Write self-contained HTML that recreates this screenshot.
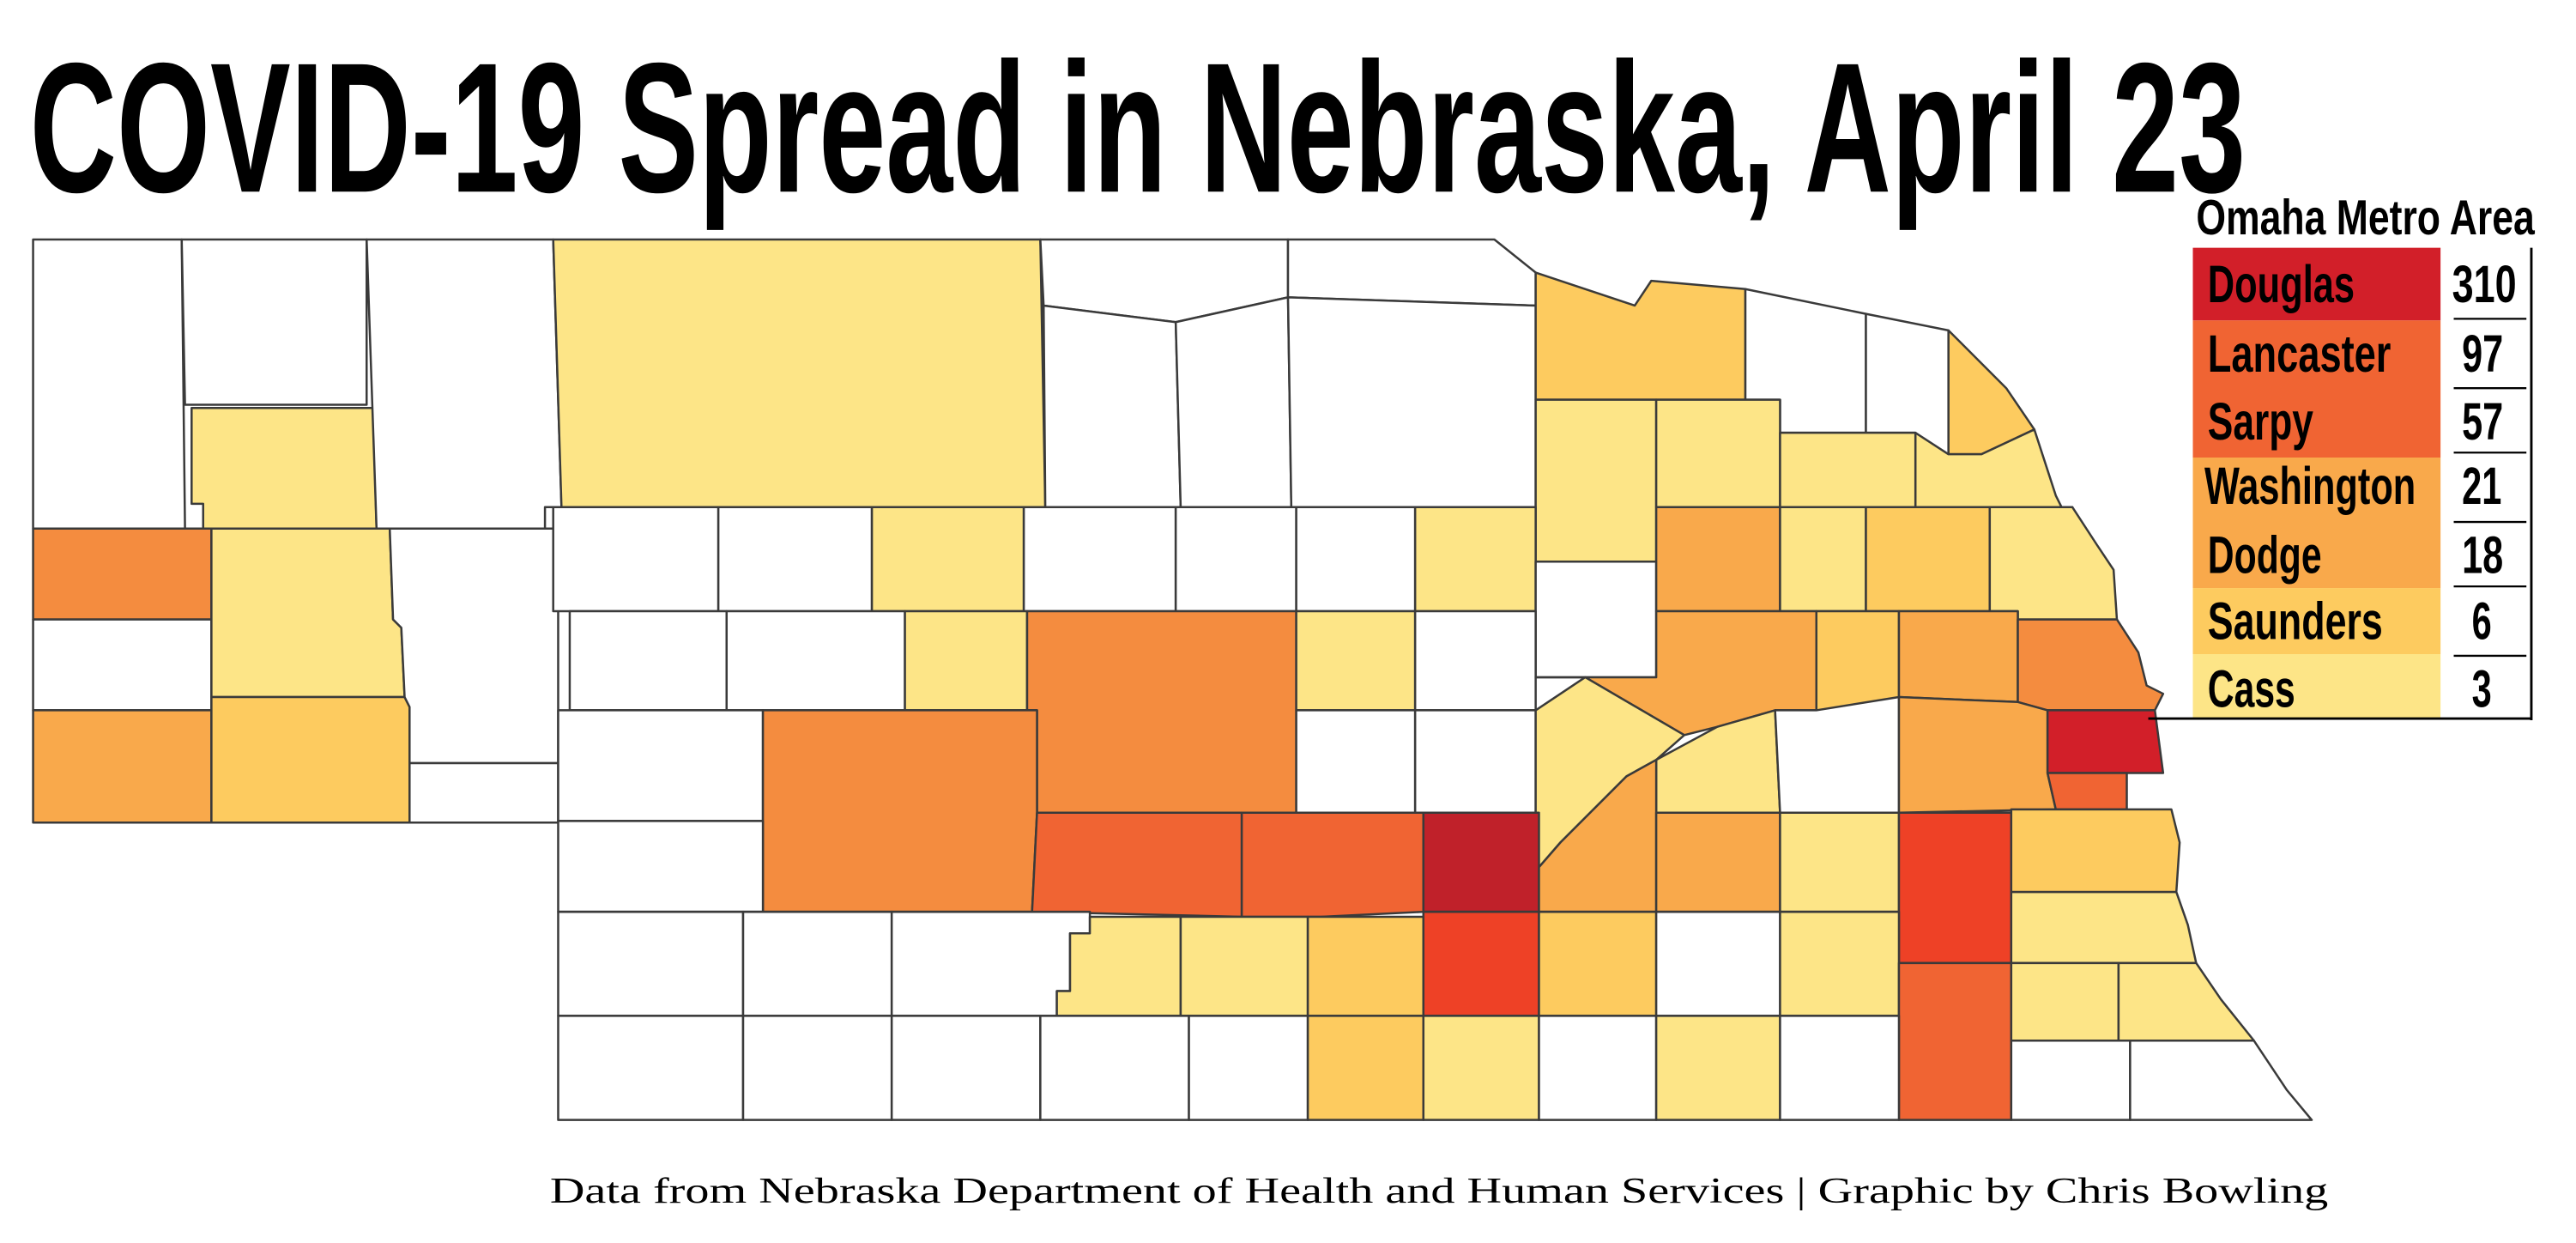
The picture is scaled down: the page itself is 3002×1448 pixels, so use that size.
<!DOCTYPE html>
<html><head><meta charset="utf-8"><style>
html,body{margin:0;padding:0;background:#fff}
svg{display:block}
.c{stroke:#3a3a3a;stroke-width:1.3;stroke-linejoin:round}
.t{font-family:"Liberation Sans",sans-serif;font-weight:bold}
</style></head><body>
<svg width="3002" height="1448" viewBox="0 0 1560 752.5" xmlns="http://www.w3.org/2000/svg">
<rect width="1560" height="752.5" fill="#fff"/>
<text class="t" x="18" y="116" font-size="112" textLength="1342" lengthAdjust="spacingAndGlyphs">COVID-19 Spread in Nebraska, April 23</text>

<g class="c">
<polygon points="20,145 110,145 112,320 20,320" fill="#fff"/>
<polygon points="110,145 222,145 222,245 112,245" fill="#fff"/>
<polygon points="116,247 226,247 228,320 123,320 123,305 116,305" fill="#fde587"/>
<polygon points="222,145 335,145 340,307 330,307 330,320 228,320" fill="#fff"/>
<rect x="20" y="320" width="108" height="55" fill="#f48c3f"/>
<rect x="20" y="375" width="108" height="55" fill="#fff"/>
<rect x="20" y="430" width="108" height="68" fill="#f9a94b"/>
<polygon points="128,320 236,320 238,375 243,380 245,422 128,422" fill="#fde587"/>
<polygon points="128,422 245,422 248,428 248,498 128,498" fill="#fdcb5f"/>
<polygon points="236,320 330,320 338,320 338,462 248,462 248,428 245,422 243,380 238,375" fill="#fff"/>
<rect x="248" y="462" width="90" height="36" fill="#fff"/>
<polygon points="335,145 630,145 633,307 340,307" fill="#fde587"/>
<polygon points="630,145 780,145 780,180 712,195 632,185" fill="#fff"/>
<polygon points="632,185 712,195 715,307 633,307" fill="#fff"/>
<polygon points="712,195 780,180 782,307 715,307" fill="#fff"/>
<polygon points="780,145 905,145 930,165 930,185 780,180" fill="#fff"/>
<polygon points="780,180 930,185 930,307 782,307" fill="#fff"/>
<polygon points="930,165 990,185 1000,170 1057,175 1057,242 930,242" fill="#fdcb5f"/>
<polygon points="1057,175 1130,190 1130,262 1078,262 1078,242 1057,242" fill="#fff"/>
<polygon points="1130,190 1180,200 1180,275 1160,275 1160,262 1130,262" fill="#fff"/>
<polygon points="1180,200 1215,235 1232,260 1200,275 1180,275" fill="#fdcb5f"/>
<rect x="930" y="242" width="73" height="98" fill="#fde587"/>
<rect x="1003" y="242" width="75" height="65" fill="#fde587"/>
<rect x="1078" y="262" width="82" height="45" fill="#fde587"/>
<polygon points="1160,262 1180,275 1200,275 1232,260 1245,300 1250,310 1255,307 1160,307" fill="#fde587"/>
<rect x="335" y="307" width="100" height="63" fill="#fff"/>
<rect x="435" y="307" width="93" height="63" fill="#fff"/>
<rect x="528" y="307" width="92" height="63" fill="#fde587"/>
<rect x="620" y="307" width="92" height="63" fill="#fff"/>
<rect x="712" y="307" width="73" height="63" fill="#fff"/>
<rect x="785" y="307" width="72" height="63" fill="#fff"/>
<rect x="857" y="307" width="73" height="63" fill="#fde587"/>
<rect x="930" y="340" width="73" height="70" fill="#fff"/>
<rect x="1003" y="307" width="75" height="63" fill="#f9a94b"/>
<rect x="1078" y="307" width="52" height="63" fill="#fde587"/>
<rect x="1130" y="307" width="75" height="63" fill="#fdcb5f"/>
<polygon points="1205,307 1255,307 1270,330 1280,345 1282,375 1222,375 1222,370 1205,370" fill="#fde587"/>
<rect x="345" y="370" width="95" height="60" fill="#fff"/>
<rect x="440" y="370" width="108" height="60" fill="#fff"/>
<rect x="548" y="370" width="74" height="60" fill="#fde587"/>
<polygon points="622,370 785,370 785,492 628,492 628,430 622,430" fill="#f48c3f"/>
<rect x="785" y="370" width="72" height="60" fill="#fde587"/>
<rect x="857" y="370" width="73" height="60" fill="#fff"/>
<polygon points="930,410 1003,410 1003,370 1100,370 1100,430 1075,430 1040,440 1020,445 960,410" fill="#f9a94b"/>
<rect x="1100" y="370" width="50" height="60" fill="#fdcb5f"/>
<polygon points="1150,370 1222,370 1222,425 1150,422" fill="#f9a94b"/>
<polygon points="1222,375 1282,375 1295,395 1300,415 1310,420 1305,430 1240,430 1222,425" fill="#f48c3f"/>
<rect x="338" y="430" width="124" height="67" fill="#fff"/>
<polygon points="462,430 622,430 628,430 628,492 625,552 462,552" fill="#f48c3f"/>
<rect x="785" y="430" width="72" height="62" fill="#fff"/>
<rect x="857" y="430" width="73" height="62" fill="#fff"/>
<polygon points="930,430 960,410 1020,445 1003,460 985,470 945,510 932,525 930,492" fill="#fde587"/>
<polygon points="1003,460 1040,440 1075,430 1078,492 1003,492" fill="#fde587"/>
<polygon points="1075,430 1100,430 1150,422 1150,492 1078,492" fill="#fff"/>
<polygon points="1150,422 1222,425 1240,430 1240,468 1245,490 1150,492" fill="#f9a94b"/>
<polygon points="1240,430 1305,430 1310,468 1240,468" fill="#d21f29"/>
<polygon points="1240,468 1288,468 1288,490 1245,490" fill="#f06433"/>
<rect x="338" y="497" width="124" height="55" fill="#fff"/>
<polygon points="628,492 752,492 752,555 625,552" fill="#f06433"/>
<polygon points="752,492 862,492 862,552 800,555 752,555" fill="#f06433"/>
<rect x="862" y="492" width="70" height="60" fill="#c0212a"/>
<polygon points="932,525 945,510 985,470 1003,460 1003,552 932,552" fill="#f9a94b"/>
<rect x="1003" y="492" width="75" height="60" fill="#f9a94b"/>
<rect x="1078" y="492" width="72" height="60" fill="#fde587"/>
<rect x="1150" y="492" width="68" height="91" fill="#ee4126"/>
<polygon points="1218,490 1315,490 1320,510 1318,540 1218,540" fill="#fdcb5f"/>
<polygon points="1218,540 1318,540 1325,560 1330,583 1218,583" fill="#fde587"/>
<rect x="338" y="552" width="112" height="63" fill="#fff"/>
<rect x="450" y="552" width="90" height="63" fill="#fff"/>
<polygon points="540,552 660,552 660,565 648,565 648,600 640,600 640,615 540,615" fill="#fff"/>
<polygon points="660,555 715,555 715,615 640,615 640,600 648,600 648,565 660,565" fill="#fde587"/>
<rect x="715" y="555" width="77" height="60" fill="#fde587"/>
<rect x="792" y="555" width="70" height="60" fill="#fdcb5f"/>
<rect x="862" y="552" width="70" height="63" fill="#ee4126"/>
<rect x="932" y="552" width="71" height="63" fill="#fdcb5f"/>
<rect x="1003" y="552" width="75" height="63" fill="#fff"/>
<rect x="1078" y="552" width="72" height="63" fill="#fde587"/>
<rect x="1150" y="583" width="68" height="95" fill="#f06433"/>
<rect x="1218" y="583" width="65" height="47" fill="#fde587"/>
<polygon points="1283,583 1330,583 1345,605 1365,630 1283,630" fill="#fde587"/>
<rect x="338" y="615" width="112" height="63" fill="#fff"/>
<rect x="450" y="615" width="90" height="63" fill="#fff"/>
<rect x="540" y="615" width="90" height="63" fill="#fff"/>
<rect x="630" y="615" width="90" height="63" fill="#fff"/>
<rect x="720" y="615" width="72" height="63" fill="#fff"/>
<rect x="792" y="615" width="70" height="63" fill="#fdcb5f"/>
<rect x="862" y="615" width="70" height="63" fill="#fde587"/>
<rect x="932" y="615" width="71" height="63" fill="#fff"/>
<rect x="1003" y="615" width="75" height="63" fill="#fde587"/>
<rect x="1078" y="615" width="72" height="63" fill="#fff"/>
<rect x="1218" y="630" width="72" height="48" fill="#fff"/>
<polygon points="1290,630 1365,630 1385,660 1400,678 1290,678" fill="#fff"/>
</g>

<!-- legend -->
<text class="t" x="1330" y="142" font-size="30" textLength="205" lengthAdjust="spacingAndGlyphs">Omaha Metro Area</text>
<rect x="1328" y="150" width="150" height="44" fill="#d21f29"/>
<rect x="1328" y="194" width="150" height="83" fill="#f06433"/>
<rect x="1328" y="277" width="150" height="79" fill="#f9a94b"/>
<rect x="1328" y="356" width="150" height="40" fill="#fdcb5f"/>
<rect x="1328" y="396" width="150" height="39" fill="#fde587"/>
<line x1="1533" y1="150" x2="1533" y2="436" stroke="#000" stroke-width="1.5"/>
<line x1="1301" y1="435" x2="1533" y2="435" stroke="#000" stroke-width="1.5"/>
<g stroke="#000" stroke-width="1.2">
<line x1="1486" y1="193" x2="1530" y2="193"/>
<line x1="1486" y1="235" x2="1530" y2="235"/>
<line x1="1486" y1="274" x2="1530" y2="274"/>
<line x1="1486" y1="316" x2="1530" y2="316"/>
<line x1="1486" y1="355" x2="1530" y2="355"/>
<line x1="1486" y1="397" x2="1530" y2="397"/>
</g>
<g class="t" font-size="32">
<text x="1337" y="183" textLength="89" lengthAdjust="spacingAndGlyphs">Douglas</text>
<text x="1337" y="225" textLength="111" lengthAdjust="spacingAndGlyphs">Lancaster</text>
<text x="1337" y="266" textLength="64" lengthAdjust="spacingAndGlyphs">Sarpy</text>
<text x="1335" y="305" textLength="128" lengthAdjust="spacingAndGlyphs">Washington</text>
<text x="1337" y="347" textLength="69" lengthAdjust="spacingAndGlyphs">Dodge</text>
<text x="1337" y="387" textLength="106" lengthAdjust="spacingAndGlyphs">Saunders</text>
<text x="1337" y="428" textLength="53" lengthAdjust="spacingAndGlyphs">Cass</text>
</g>
<g class="t" font-size="32">
<text x="1485" y="183" textLength="39" lengthAdjust="spacingAndGlyphs">310</text>
<text x="1491" y="225" textLength="25" lengthAdjust="spacingAndGlyphs">97</text>
<text x="1491" y="266" textLength="25" lengthAdjust="spacingAndGlyphs">57</text>
<text x="1491" y="305" textLength="24" lengthAdjust="spacingAndGlyphs">21</text>
<text x="1491" y="347" textLength="25" lengthAdjust="spacingAndGlyphs">18</text>
<text x="1497" y="387" textLength="12" lengthAdjust="spacingAndGlyphs">6</text>
<text x="1497" y="428" textLength="12" lengthAdjust="spacingAndGlyphs">3</text>
</g>

<text x="333" y="728" font-family="Liberation Serif,serif" font-size="22" textLength="1077" lengthAdjust="spacingAndGlyphs">Data from Nebraska Department of Health and Human Services | Graphic by Chris Bowling</text>
</svg>
</body></html>
